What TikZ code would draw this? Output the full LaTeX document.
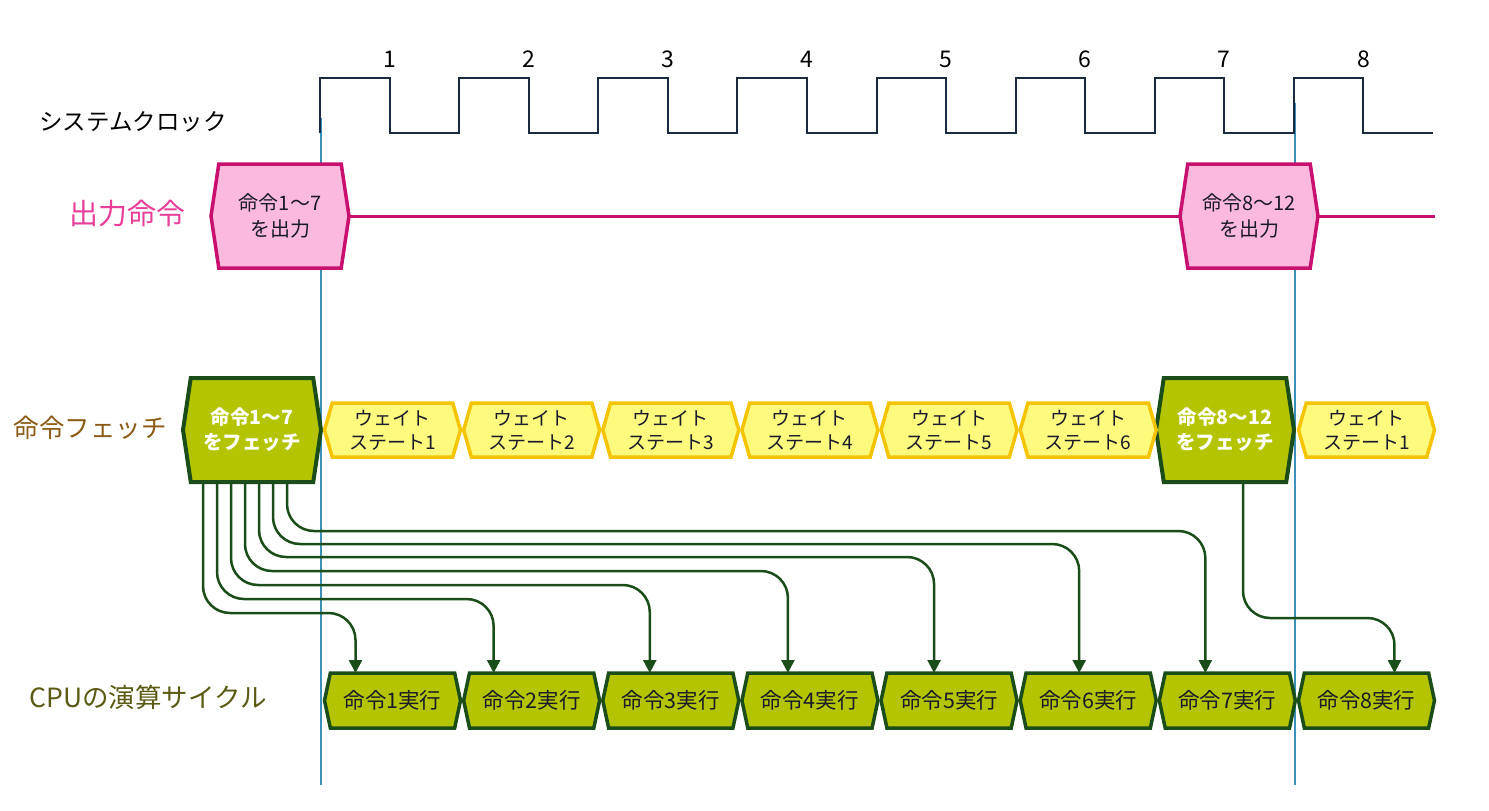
\documentclass[tikz,border=0pt]{standalone}
\usepackage{fontspec}
\setmainfont{Noto Sans CJK JP}
\usetikzlibrary{arrows.meta,shapes.symbols,calc}
\definecolor{clk}{HTML}{1A2A40}
\definecolor{guide}{HTML}{3A90B8}
\definecolor{outfill}{HTML}{FBB9DE}
\definecolor{outdraw}{HTML}{C8106E}
\definecolor{outlabel}{HTML}{E8409A}
\definecolor{fetchfill}{HTML}{B4C400}
\definecolor{fetchdraw}{HTML}{1A4D1A}
\definecolor{waitfill}{HTML}{FDFA7E}
\definecolor{waitdraw}{HTML}{F5C400}
\definecolor{fetchlabel}{HTML}{8A5A14}
\definecolor{cpulabel}{HTML}{5A5A14}
\definecolor{txtdark}{HTML}{1A1A2A}

\begin{document}
\begin{tikzpicture}[
  x=1pt,y=-1pt,
  hexbox/.style={signal,signal to=east and west,inner sep=0pt,outer sep=0pt,align=center},
  outbox/.style={hexbox,draw=outdraw,fill=outfill,line width=3.5pt,
                 minimum width=138pt,minimum height=104pt,signal pointer angle=163,
                 text=txtdark,font=\fontsize{20}{26}\selectfont},
  fetchbox/.style={hexbox,draw=fetchdraw,fill=fetchfill,line width=4pt,
                   minimum width=138pt,minimum height=104pt,signal pointer angle=163,
                   text=white,font=\bfseries\fontsize{19.5}{25}\selectfont},
  waitbox/.style={hexbox,draw=waitdraw,fill=waitfill,line width=3.5pt,
                  minimum width=136pt,minimum height=54pt,signal pointer angle=148,
                  text=txtdark,font=\fontsize{19}{24}\selectfont},
  execbox/.style={hexbox,draw=fetchdraw,fill=fetchfill,line width=3.5pt,
                  minimum width=136pt,minimum height=55pt,signal pointer angle=156,
                  text=txtdark,font=\fontsize{21.5}{24}\selectfont},
  rowlabel/.style={font=\fontsize{23.5}{28}\selectfont},
  num/.style={font=\fontsize{23}{25}\selectfont,text=black},
  clock/.style={draw=clk,line width=2pt},
  guideline/.style={draw=guide,line width=1.5pt},
  flow/.style={draw=fetchdraw,line width=2.5pt,rounded corners=27pt,
               -{Triangle[length=13pt,width=13pt]}}
]
  \useasboundingbox (0,0) rectangle (1489,811);

  % guide lines behind everything
  \draw[guideline] (321,118) -- (321,785);
  \draw[guideline] (1295,103) -- (1295,785);

  % clock
  \draw[clock] (320,133) \foreach \k in {0,...,7}{
      -- ({320+139.14*\k},78) -- ({389.5+139.14*\k},78)
      -- ({389.5+139.14*\k},133) -- ({459.14+139.14*\k},133)};
  \foreach \k in {1,...,8}
    \node[num] (c\k) at ({389.5+139.14*(\k-1)},59) {\k};

  % row labels
  \node[rowlabel,text=black] (lclk) at (133,122) {システムクロック};
  \node[rowlabel,text=outlabel,font=\fontsize{29}{32}\selectfont] (lout) at (127,214) {出力命令};
  \node[rowlabel,text=fetchlabel,font=\fontsize{25.5}{28}\selectfont] (lfetch) at (90,428) {命令フェッチ};
  \node[rowlabel,text=cpulabel,font=\fontsize{26.5}{30}\selectfont] (lcpu) at (148,697) {CPUの演算サイクル};

  % output commands
  \node[outbox] (o1) at (280,216) {命令1〜7\\を出力};
  \node[outbox] (o2) at (1249,216) {命令8〜12\\を出力};
  \coordinate (oend) at (1435,216);
  \draw[draw=outdraw,line width=3pt] (o1.east) -- (o2.west);
  \draw[draw=outdraw,line width=3pt] (o2.east) -- (oend);

  % fetch row
  \node[fetchbox] (f1) at (252,430) {命令1〜7\\をフェッチ};
  \node[fetchbox] (f2) at (1225,430) {命令8〜12\\をフェッチ};
  \foreach \k in {1,...,6}
    \node[waitbox] (w\k) at ({392.5+139.14*(\k-1)},430) {ウェイト\\ステート\k};
  \node[waitbox] (w7) at (1366.5,430) {ウェイト\\ステート1};

  % execution row
  \foreach \k in {1,...,8}
    \node[execbox] (e\k) at ({392.5+139.14*(\k-1)},700.5) {命令\k{}実行};

  % fetch -> execute
  \foreach \i/\sx/\yy/\tx in {1/-49/613/-37,2/-35/599/-38,3/-21/585/-21,4/-7/571/-22,
                              5/7/557/-15,6/21/544/-9,7/35/531/-22}{
    \coordinate (t\i) at ([xshift=\tx]e\i.north);
    \draw[flow] ([xshift=\sx]f1.south) |- (t\i |- 0,\yy) -- (t\i);
  }
  \coordinate (t8) at ([xshift=28]e8.north);
  \draw[flow] ([xshift=18]f2.south) |- (t8 |- 0,618) -- (t8);
\end{tikzpicture}
\end{document}
